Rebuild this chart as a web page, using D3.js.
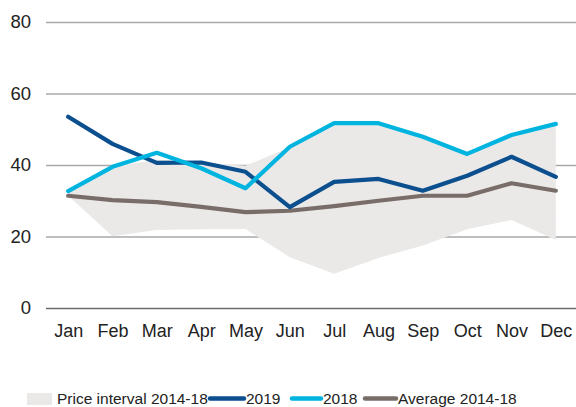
<!DOCTYPE html>
<html>
<head>
<meta charset="utf-8">
<script src="https://cdn.jsdelivr.net/npm/d3@7"></script>
<style>
  body { margin: 0; background: #fff; }
  svg { display: block; font-family: "Liberation Sans", Arial, sans-serif; }
  .axis text { fill: #222; }
</style>
</head>
<body>
<div id="chart"></div>
<script>
// data
const months = ['Jan', 'Feb', 'Mar', 'Apr', 'May', 'Jun', 'Jul', 'Aug', 'Sep', 'Oct', 'Nov', 'Dec'];
const yTicks = [0, 20, 40, 60, 80];
const bandLow  = [31.4, 20.1, 21.8, 22.0, 22.1, 14.2, 9.6, 14.0, 17.5, 22.0, 24.6, 19.0];
const bandHigh = [32.7, 39.5, 41.5, 40.8, 39.8, 45.0, 51.7, 51.7, 47.9, 43.1, 48.4, 51.5];
const s2019    = [53.5, 45.9, 40.6, 40.7, 38.1, 28.2, 35.3, 36.1, 32.8, 37.0, 42.3, 36.7];
const s2018    = [32.7, 39.5, 43.4, 39.1, 33.5, 45.1, 51.7, 51.7, 47.9, 43.1, 48.4, 51.5];
const sAverage = [31.4, 30.2, 29.6, 28.3, 26.8, 27.2, 28.5, 30.0, 31.4, 31.4, 34.9, 32.8];

const legendLabels = ['Price interval 2014-18', '2019', '2018', 'Average 2014-18'];

const W = 576, H = 407;
const colors = { band: '#ebe8e8', s2019: '#0b4f8e', s2018: '#00b4e0', avg: '#786d68' };

const svg = d3.select('#chart').append('svg')
  .attr('width', W)
  .attr('height', H);

const x = d3.scalePoint().domain(months).range([46, 578]).padding(0.5);
const y = d3.scaleLinear().domain([0, 80]).range([308, 22]);

// gridlines + y labels
const yAxisG = svg.append('g')
  .attr('class', 'axis')
  .attr('transform', 'translate(46,0)')
  .call(d3.axisLeft(y).tickValues(yTicks).tickSize(-(W - 46)).tickPadding(15));
yAxisG.select('.domain').remove();
yAxisG.selectAll('line')
  .attr('stroke', d => d === 0 ? '#6b6b6b' : '#a9a9a9')
  .attr('stroke-width', 1.6);
yAxisG.selectAll('text').attr('font-size', 18.5);

// price interval band (drawn over gridlines)
const area = d3.area()
  .x((d, i) => x(months[i]))
  .y0((d, i) => y(bandLow[i]))
  .y1(d => y(d));
svg.append('path')
  .datum(bandHigh)
  .attr('fill', colors.band)
  .attr('d', area);

// x labels
const xAxisG = svg.append('g')
  .attr('class', 'axis')
  .attr('transform', 'translate(0,308)')
  .call(d3.axisBottom(x).tickSize(0).tickPadding(16));
xAxisG.select('.domain').remove();
xAxisG.selectAll('text').attr('font-size', 18);

// lines
const line = d3.line()
  .x((d, i) => x(months[i]))
  .y(d => y(d));
const series = [
  { values: sAverage, color: colors.avg },
  { values: s2019, color: colors.s2019 },
  { values: s2018, color: colors.s2018 }
];
svg.selectAll('.series')
  .data(series)
  .enter()
  .append('path')
  .attr('class', 'series')
  .attr('fill', 'none')
  .attr('stroke', d => d.color)
  .attr('stroke-width', 4.2)
  .attr('stroke-linejoin', 'round')
  .attr('stroke-linecap', 'round')
  .attr('d', d => line(d.values));

// legend
const legend = svg.append('g').attr('font-size', 15.5).attr('fill', '#222');
const legendItems = [
  { label: legendLabels[0], type: 'rect', color: colors.band, x0: 27, x1: 52, tx: 57 },
  { label: legendLabels[1], type: 'line', color: colors.s2019, x0: 210, x1: 244, tx: 246 },
  { label: legendLabels[2], type: 'line', color: colors.s2018, x0: 292, x1: 321, tx: 323 },
  { label: legendLabels[3], type: 'line', color: colors.avg, x0: 365, x1: 396, tx: 398 }
];
legendItems.forEach(it => {
  if (it.type === 'rect') {
    legend.append('rect')
      .attr('x', it.x0).attr('y', 393)
      .attr('width', it.x1 - it.x0).attr('height', 12)
      .attr('fill', it.color);
  } else {
    legend.append('line')
      .attr('x1', it.x0).attr('x2', it.x1)
      .attr('y1', 398.5).attr('y2', 398.5)
      .attr('stroke', it.color)
      .attr('stroke-width', 4.5)
      .attr('stroke-linecap', 'round');
  }
  legend.append('text')
    .attr('x', it.tx).attr('y', 404)
    .text(it.label);
});
</script>
</body>
</html>
